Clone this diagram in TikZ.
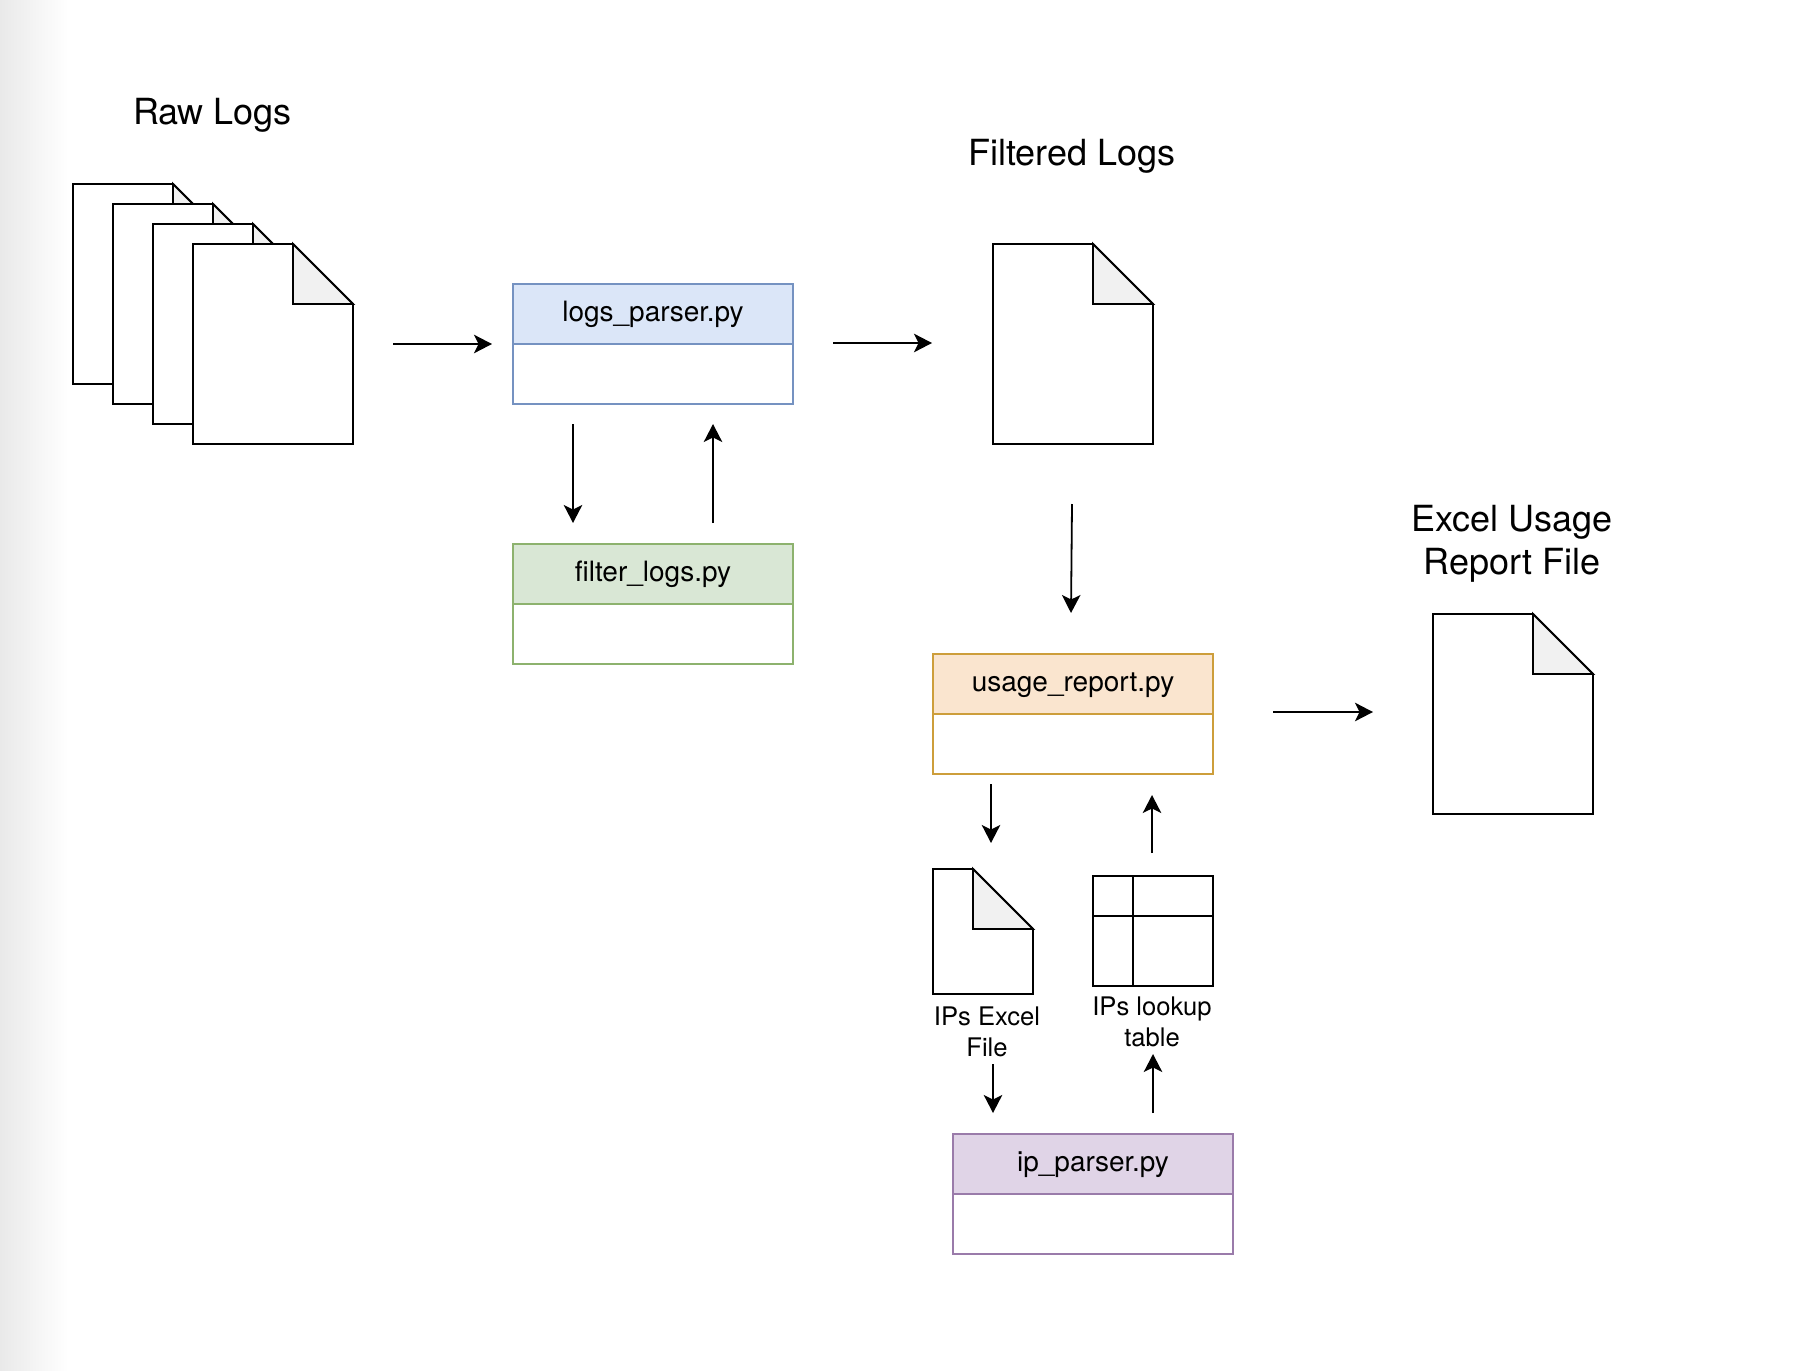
\documentclass[tikz,border=0pt]{standalone}
\usepackage{fontspec}
\setmainfont{TeX Gyre Heros}
\usetikzlibrary{positioning,arrows.meta}

\definecolor{sidegray}{HTML}{E9E9E9}
\definecolor{foldgray}{HTML}{F1F1F1}
\definecolor{blueline}{HTML}{7592C1}
\definecolor{bluefill}{HTML}{DBE6F8}
\definecolor{greenline}{HTML}{8DB26E}
\definecolor{greenfill}{HTML}{D9E7D5}
\definecolor{orangeline}{HTML}{CD9E3B}
\definecolor{orangefill}{HTML}{FAE5CF}
\definecolor{purpleline}{HTML}{9A7BAA}
\definecolor{purplefill}{HTML}{E0D4E7}

\tikzset{
	docline/.style={line width=1.9pt,line join=miter},
	flow/.style={line width=1.8pt,-{Stealth[length=18pt,width=18.5pt,inset=4.5pt]}},
	pyhead/.style={line width=1.9pt,minimum width=280pt,minimum height=60pt,inner sep=0pt,outer sep=0pt,
		text height=19pt,text depth=4pt,font=\fontsize{28}{33}\selectfont},
	pybody/.style={line width=1.9pt,minimum width=280pt,minimum height=60pt,inner sep=0pt,outer sep=0pt,fill=white},
	biglabel/.style={anchor=base,align=center,inner sep=0pt,font=\fontsize{36}{42.7}\selectfont},
	smalllabel/.style={anchor=base,align=center,inner sep=0pt,font=\fontsize{25.6}{30.7}\selectfont}
}

% name, left, top, width, height
\newcommand{\filedoc}[5]{
	\node[minimum width=#4pt,minimum height=#5pt,anchor=north west,inner sep=0pt,outer sep=0pt] (#1) at (#2,#3) {};
	\draw[docline,fill=white] (#1.north west) -- ([xshift=-60pt]#1.north east) -- ([yshift=-60pt]#1.north east) -- (#1.south east) -- (#1.south west) -- cycle;
	\draw[docline,fill=foldgray] ([xshift=-60pt]#1.north east) -- ([xshift=-60pt,yshift=-60pt]#1.north east) -- ([yshift=-60pt]#1.north east) -- cycle;
}

\begin{document}
\begin{tikzpicture}[x=1pt,y=-1pt,node distance=0pt]

	\useasboundingbox (0,0) rectangle (1806,1370);
	\shade[left color=sidegray,right color=white] (0,0) rectangle (68,1370);

	\node[biglabel] (rawlabel) at (212.5,124.5) {Raw Logs};
	\filedoc{rawa}{73}{184}{160}{200}
	\filedoc{rawb}{113}{204}{160}{200}
	\filedoc{rawc}{153}{224}{160}{200}
	\filedoc{rawd}{193}{244}{160}{200}

	\node[pyhead,draw=blueline,fill=bluefill] (logs) at (653,314) {logs\_parser.py};
	\node[pybody,draw=blueline,below=of logs] (logsbody) {};
	\node[pyhead,draw=greenline,fill=greenfill] (filter) at (653,574) {filter\_logs.py};
	\node[pybody,draw=greenline,below=of filter] (filterbody) {};

	\node[biglabel] (filteredlabel) at (1072,165) {Filtered Logs};
	\filedoc{filtered}{993}{244}{160}{200}

	\node[pyhead,draw=orangeline,fill=orangefill] (usage) at (1073,684) {usage\_report.py};
	\node[pybody,draw=orangeline,below=of usage] (usagebody) {};

	\node[biglabel] (reportlabel) at (1512,574) {Excel Usage\\Report File};
	\filedoc{report}{1433}{614}{160}{200}

	\filedoc{ipdoc}{933}{869}{100}{125}
	\node[smalllabel] (ipdoclabel) at (987,1056) {IPs Excel\\File};

	\node[draw,line width=1.9pt,minimum width=120pt,minimum height=110pt,inner sep=0pt,outer sep=0pt] (iptable) at (1153,931) {};
	\draw[line width=1.9pt] ([xshift=40pt]iptable.north west) -- ([xshift=40pt]iptable.south west);
	\draw[line width=1.9pt] ([yshift=-40pt]iptable.north west) -- ([yshift=-40pt]iptable.north east);
	\node[smalllabel] (iptablelabel) at (1152,1046) {IPs lookup\\table};

	\node[pyhead,draw=purpleline,fill=purplefill] (ipparser) at (1093,1164) {ip\_parser.py};
	\node[pybody,draw=purpleline,below=of ipparser] (ipparserbody) {};

	\draw[flow] ([xshift=40pt]rawd.east) -- ([xshift=-21pt]logsbody.north west);
	\draw[flow] ([xshift=60pt,yshift=-20pt]logsbody.south west) -- ([xshift=60pt,yshift=21pt]filter.north west);
	\draw[flow] ([xshift=200pt,yshift=21pt]filter.north west) -- ([xshift=200pt,yshift=-20pt]logsbody.south west);
	\draw[flow] ([xshift=40pt,yshift=1pt]logsbody.north east) -- ([xshift=-61pt,yshift=1pt]filtered.west);
	\draw[flow] ([xshift=-1pt,yshift=-60pt]filtered.south) -- ([xshift=-2pt,yshift=41pt]usage.north);
	\draw[flow] ([xshift=60pt,yshift=2pt]usagebody.north east) -- ([xshift=-60pt,yshift=2pt]report.west);
	\draw[flow] ([xshift=58pt,yshift=-10pt]usagebody.south west) -- ([xshift=58pt,yshift=26pt]ipdoc.north west);
	\draw[flow] ([xshift=-1pt,yshift=23pt]iptable.north) -- ([xshift=79pt,yshift=-21pt]usagebody.south);
	\draw[flow] ([xshift=10pt,yshift=-70pt]ipdoc.south) -- ([xshift=40pt,yshift=21pt]ipparser.north west);
	\draw[flow] ([xshift=200pt,yshift=21pt]ipparser.north west) -- ([yshift=-68pt]iptable.south);
\end{tikzpicture}
\end{document}
